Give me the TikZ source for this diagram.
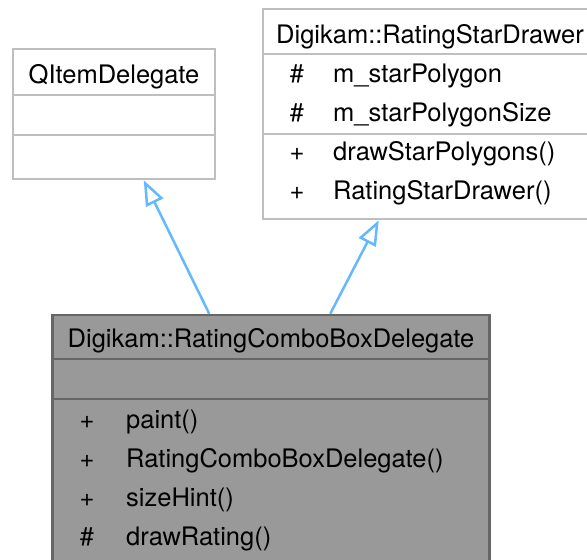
\documentclass[tikz,border=0pt]{standalone}
\usepackage{fontspec}
\setmainfont{TeX Gyre Heros}
\usetikzlibrary{arrows.meta, positioning, calc}
\definecolor{inhblue}{HTML}{63B8FF}
\definecolor{boxgray}{HTML}{BFBFBF}
\definecolor{focusfill}{HTML}{999999}
\definecolor{focusdraw}{HTML}{666666}

\begin{document}
\begin{tikzpicture}[x=1pt, y=-1pt,
  classbox/.style={draw=boxgray, fill=white, line width=2.5pt, inner sep=0pt},
  focusbox/.style={classbox, draw=focusdraw, fill=focusfill},
  sepline/.style={draw=boxgray, line width=2.5pt},
  focussep/.style={sepline, draw=focusdraw},
  headtext/.style={anchor=base, inner sep=0pt, font=\fontsize{25.5}{30}\selectfont},
  rowtext/.style={anchor=base west, inner sep=0pt, font=\fontsize{25.5}{30}\selectfont},
  vistext/.style={anchor=base, inner sep=0pt, font=\fontsize{25.5}{30}\selectfont},
  inherit/.style={draw=inhblue, line width=2.5pt, -{Triangle[open, length=25pt, width=19pt]}}
]
  \useasboundingbox (0,0) rectangle (587,560);

  % base classes
  \node[classbox, minimum width=202pt, minimum height=130pt] (qitem) at (114,114) {};
  \draw[sepline] ($(qitem.north west)+(0,47)$) -- ($(qitem.north east)+(0,47)$);
  \draw[sepline] ($(qitem.north west)+(0,87)$) -- ($(qitem.north east)+(0,87)$);
  \node[headtext] (qitem-name) at (114,83) {QItemDelegate};

  \node[classbox, minimum width=334pt, minimum height=210pt] (stars) at (430,114) {};
  \draw[sepline] ($(stars.north west)+(0,46)$) -- ($(stars.north east)+(0,46)$);
  \draw[sepline] ($(stars.north west)+(0,126)$) -- ($(stars.north east)+(0,126)$);
  \node[headtext] (stars-name) at (430,43) {Digikam::RatingStarDrawer};
  \node[vistext] at (297,82) {\#};
  \node[rowtext] (stars-a1) at (333,82) {m\_starPolygon};
  \node[vistext] at (297,121) {\#};
  \node[rowtext] (stars-a2) at (333,121) {m\_starPolygonSize};
  \node[vistext] at (297,160) {+};
  \node[rowtext] (stars-m1) at (333,160) {drawStarPolygons()};
  \node[vistext] at (297,199) {+};
  \node[rowtext] (stars-m2) at (333,199) {RatingStarDrawer()};

  % derived class
  \node[focusbox, minimum width=437pt, minimum height=270pt] (combo) at (271,450) {};
  \draw[focussep] ($(combo.north west)+(0,45)$) -- ($(combo.north east)+(0,45)$);
  \draw[focussep] ($(combo.north west)+(0,85)$) -- ($(combo.north east)+(0,85)$);
  \node[headtext] (combo-name) at (271,347) {Digikam::RatingComboBoxDelegate};
  \node[vistext] at (87,428) {+};
  \node[rowtext] (combo-m1) at (126,428) {paint()};
  \node[vistext] at (87,467) {+};
  \node[rowtext] (combo-m2) at (126,467) {RatingComboBoxDelegate()};
  \node[vistext] at (87,506) {+};
  \node[rowtext] (combo-m3) at (126,506) {sizeHint()};
  \node[vistext] at (87,545) {\#};
  \node[rowtext] (combo-m4) at (126,545) {drawRating()};

  % inheritance
  \draw[inherit] ($(combo.north west)+(158,0)$) -- ($(qitem.south west)+(132,0)$);
  \draw[inherit] ($(combo.north west)+(279,0)$) -- ($(stars.south west)+(117,0)$);
\end{tikzpicture}
\end{document}
